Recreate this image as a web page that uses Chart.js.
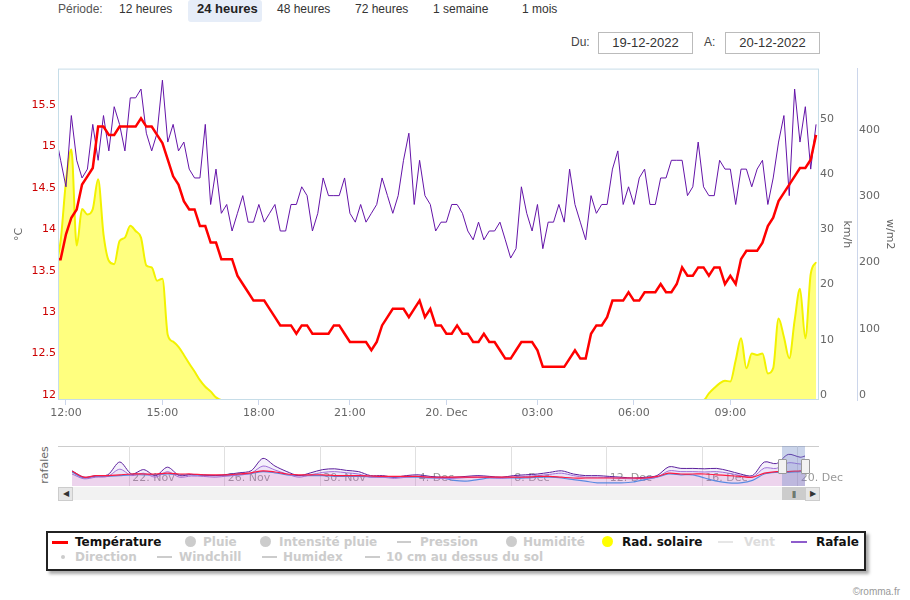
<!DOCTYPE html>
<html><head><meta charset="utf-8">
<script src="https://cdn.jsdelivr.net/npm/chart.js@4.4.0/dist/chart.umd.min.js"></script>
<style>
body{margin:0;width:910px;height:600px;position:relative;background:#fff;font-family:"Liberation Sans",Arial,sans-serif;overflow:hidden}
.a{position:absolute;white-space:nowrap}
.top{font-size:12px;color:#333;line-height:14px;top:2px}
.lg{font-family:"DejaVu Sans",sans-serif;font-weight:bold;font-size:12px;line-height:14px;color:#ccc}
.on{color:#111}
.ln{position:absolute;height:2px}
.dot{position:absolute;border-radius:50%}
.box{position:absolute;border:1px solid #bbb;height:20px;width:93px;top:32px;font-size:13px;line-height:20px;text-align:center;color:#333}
</style></head><body>

<div class="a top" style="left:58px;color:#555">Période:</div>
<div class="a" style="left:188px;top:0;width:74px;height:22px;background:#e6edf8;border-radius:3px"></div>
<div class="a top" style="left:119px">12 heures</div>
<div class="a top" style="left:197px;font-weight:bold;font-size:13px;color:#222">24 heures</div>
<div class="a top" style="left:277px">48 heures</div>
<div class="a top" style="left:355px">72 heures</div>
<div class="a top" style="left:433px">1 semaine</div>
<div class="a top" style="left:522px">1 mois</div>
<div class="a" style="left:571px;top:35px;font-size:12px;color:#444">Du:</div>
<div class="box" style="left:598px">19-12-2022</div>
<div class="a" style="left:704px;top:35px;font-size:12px;color:#444">A:</div>
<div class="box" style="left:725px">20-12-2022</div>

<div class="a" style="left:0;top:60px;width:910px;height:365px"><canvas id="main" width="910" height="365"></canvas></div>

<div class="a" style="left:58px;top:446px;width:761px;height:1px;background:#ccc"></div>
<div class="a" style="left:72px;top:446px;width:793px;height:40px"><canvas id="nav" width="793" height="40"></canvas></div>
<div class="a" style="left:25px;top:458px;width:40px;height:14px;transform:rotate(-90deg);font-family:'DejaVu Sans';font-size:11px;color:#666;text-align:center;line-height:14px">rafales</div>
<div class="a" style="left:782px;top:446px;width:23px;height:40px;background:rgba(102,133,194,0.35)"></div>
<div class="a" style="left:778px;top:459px;width:7px;height:13px;background:#f2f2f2;border:1px solid #999;border-radius:1px"></div>
<div class="a" style="left:801px;top:459px;width:7px;height:13px;background:#f2f2f2;border:1px solid #999;border-radius:1px"></div>
<div class="a" style="left:58px;top:487px;width:761px;height:13px;background:#f2f2f2"></div>
<div class="a" style="left:58px;top:487px;width:13px;height:12px;background:#e6e6e6;border:1px solid #ccc;font-size:8px;line-height:12px;text-align:center;color:#333">&#9664;</div>
<div class="a" style="left:805px;top:487px;width:13px;height:12px;background:#e6e6e6;border:1px solid #ccc;font-size:8px;line-height:12px;text-align:center;color:#333">&#9654;</div>
<div class="a" style="left:782px;top:487px;width:23px;height:13px;background:#ccc;font-size:8px;line-height:13px;text-align:center;color:#333;letter-spacing:-1px">|||</div>

<div class="a" style="left:46px;top:531px;width:816px;height:36px;border:2px solid #222;box-shadow:3px 3px 3px #aaa;background:#fff"></div>
<div class="ln" style="left:52px;top:541px;width:16px;height:3px;background:#ff0000"></div>
<div class="a lg on" style="left:75px;top:535px">Température</div>
<div class="dot" style="left:185px;top:536px;width:11px;height:11px;background:#ccc"></div>
<div class="a lg" style="left:203px;top:535px">Pluie</div>
<div class="dot" style="left:260px;top:536px;width:11px;height:11px;background:#ccc"></div>
<div class="a lg" style="left:279px;top:535px">Intensité pluie</div>
<div class="ln" style="left:397px;top:541px;width:14px;background:#ccc"></div>
<div class="a lg" style="left:420px;top:535px">Pression</div>
<div class="dot" style="left:506px;top:536px;width:11px;height:11px;background:#ccc"></div>
<div class="a lg" style="left:523px;top:535px">Humidité</div>
<div class="dot" style="left:602px;top:536px;width:11px;height:11px;background:#ffff00"></div>
<div class="a lg on" style="left:622px;top:535px">Rad. solaire</div>
<div class="ln" style="left:718px;top:541px;width:15px;background:#e6e6e6"></div>
<div class="a lg" style="left:744px;top:535px;color:#ddd">Vent</div>
<div class="ln" style="left:791px;top:541px;width:16px;background:#8e5ccc"></div>
<div class="a lg on" style="left:816px;top:535px">Rafale</div>
<div class="dot" style="left:61px;top:555px;width:4px;height:4px;background:#ccc"></div>
<div class="a lg" style="left:75px;top:550px">Direction</div>
<div class="ln" style="left:157px;top:556px;width:15px;background:#ccc"></div>
<div class="a lg" style="left:179px;top:550px">Windchill</div>
<div class="ln" style="left:262px;top:556px;width:15px;background:#ccc"></div>
<div class="a lg" style="left:283px;top:550px">Humidex</div>
<div class="ln" style="left:365px;top:556px;width:15px;background:#ccc"></div>
<div class="a lg" style="left:386px;top:550px">10 cm au dessus du sol</div>

<div class="a" style="right:10px;top:586px;font-size:10px;color:#999">©romma.fr</div>

<script>
// ---- main chart data (10-min readings, index = position on ordinal axis) ----
const firstIndex = -1;
const temperature = [
 13.7,13.7,14.0,14.2,14.3,14.6,14.7,14.8,15.3,15.3,15.2,
 15.2,15.3,15.3,15.3,15.3,15.4,15.3,15.3,15.2,15.1,
 14.9,14.7,14.6,14.4,14.3,14.3,14.1,14.1,13.9,13.9,
 13.7,13.7,13.7,13.5,13.4,13.3,13.2,13.2,13.2,13.1,
 13.0,12.9,12.9,12.9,12.8,12.9,12.9,12.8,12.8,12.8,
 12.8,12.9,12.9,12.8,12.7,12.7,12.7,12.7,12.6,12.7,
 12.9,13.0,13.1,13.1,13.1,13.0,13.1,13.2,13.0,13.1,
 12.9,12.9,12.8,12.8,12.9,12.8,12.8,12.7,12.7,12.8,
 12.7,12.7,12.6,12.5,12.5,12.6,12.7,12.7,12.7,12.6,
 12.4,12.4,12.4,12.4,12.4,12.5,12.6,12.5,12.5,12.8,
 12.9,12.9,13.0,13.2,13.2,13.2,13.3,13.2,13.2,13.3,
 13.3,13.3,13.4,13.3,13.3,13.4,13.6,13.5,13.5,13.6,
 13.6,13.5,13.6,13.6,13.4,13.5,13.4,13.7,13.8,13.8,
 13.8,13.9,14.1,14.2,14.4,14.5,14.6,14.7,14.8,14.8,14.9,15.2
];
const rafale = [
 48.3,43.4,38.6,51.5,43.4,40.2,41.8,49.9,43.4,51.5,45.1,
 53.1,49.9,45.1,54.7,54.7,56.3,48.3,45.1,48.3,57.9,
 46.7,49.9,45.1,46.7,41.8,40.2,40.2,49.9,35.4,41.8,
 33.8,35.4,30.6,33.8,37.0,32.2,32.2,35.4,32.2,33.8,
 35.4,30.6,30.6,35.4,35.4,38.6,37.0,30.6,33.8,40.2,
 37.0,37.0,37.0,40.2,33.8,32.2,35.4,32.2,33.8,35.4,
 40.2,37.0,33.8,37.0,43.4,48.3,35.4,43.4,37.0,35.4,
 30.6,32.2,32.2,35.4,35.4,33.8,30.6,29.0,32.2,29.0,
 30.6,30.6,32.2,29.0,25.7,27.4,38.6,33.8,30.6,35.4,
 27.4,32.2,32.2,35.4,32.2,41.8,35.4,32.2,29.0,37.0,
 33.8,35.4,35.4,41.8,45.1,35.4,38.6,35.4,40.2,41.8,
 35.4,35.4,40.2,40.2,43.4,43.4,43.4,37.0,38.6,46.7,
 38.6,37.0,37.0,43.4,41.8,41.8,35.4,41.8,41.8,38.6,
 41.8,43.4,35.4,40.2,46.7,51.5,37.0,56.3,46.7,53.1,41.8,49.9
];
const solar = [
 200,240,330,378,233,288,280,288,333,250,210,
 205,240,245,263,255,245,203,200,180,183,
 98,88,80,68,55,43,30,20,13,4,
 0,0,0,0,0,0,0,0,0,0,
 0,0,0,0,0,0,0,0,0,0,
 0,0,0,0,0,0,0,0,0,0,
 0,0,0,0,0,0,0,0,0,0,
 0,0,0,0,0,0,0,0,0,0,
 0,0,0,0,0,0,0,0,0,0,
 0,0,0,0,0,0,0,0,0,0,
 0,0,0,0,0,0,0,0,0,0,
 0,0,0,0,0,0,0,0,0,0,
 0,10,18,25,29,28,60,93,48,70,
 68,70,40,48,123,95,63,120,168,93,190,208
];
const tickIndex  = [1,19,37,54,72,89,107,125];
const tickLabels = ['12:00','15:00','18:00','21:00','20. Dec','03:00','06:00','09:00'];
const tempTicks  = [12,12.5,13,13.5,14,14.5,15,15.5];
const windTicks  = [0,10,20,30,40,50];
const solarTicks = [0,100,200,300,400];

// ---- navigator data (days since 19 Nov) ----
const navDays = [0.6,1.1,1.6,2.1,2.6,3.1,3.6,4.1,4.6,5.1,5.6,6.1,6.6,7.1,7.6,8.1,8.6,9.1,9.6,10.1,10.6,11.1,11.6,12.1,12.6,13.1,13.6,14.1,14.6,15.1,15.6,16.1,16.6,17.1,17.6,18.1,18.6,19.1,19.6,20.1,20.6,21.1,21.6,22.1,22.6,23.1,23.6,24.1,24.6,25.1,25.6,26.1,26.6,27.1,27.6,28.1,28.6,29.1,29.6,30.1,30.6,31.1,31.3];
const navRafale = [38,22,26,28,60,30,41,26,47,26,29,28,26,29,33,38,69,50,36,26,33,41,43,39,36,26,26,22,26,28,24,22,22,24,26,24,22,26,28,30,34,38,30,26,26,24,22,20,22,26,48,44,44,43,44,38,30,26,60,56,79,72,75];
const navVent = [30,18,22,24,42,26,32,22,36,22,25,24,22,25,28,32,50,40,30,22,28,34,36,33,30,22,22,19,22,24,21,19,19,21,22,21,19,22,24,26,29,32,26,22,22,21,19,18,19,22,38,36,36,35,36,32,26,22,45,44,58,55,56];
const navTemp = [37,22,26,26,28,30,30,30,32,30,30,28,28,28,30,33,38,35,30,28,28,28,26,26,26,25,24,24,24,24,22,22,22,22,22,22,22,22,22,24,24,22,20,20,20,20,20,20,20,24,32,30,30,30,28,26,24,22,32,36,36,38,38];
const navSol = [35,20,24,24,26,28,28,28,30,28,28,26,26,26,28,31,36,33,28,26,26,26,24,24,24,23,22,22,22,22,20,20,14,12,16,20,20,20,20,22,22,20,16,12,8,8,8,10,16,22,30,28,28,20,12,8,8,14,30,34,34,36,36];
const navTickDays = [3,7,11,15,19,23,27,31];
const navTickLabels = ['22. Nov','26. Nov','30. Nov','4. Dec','8. Dec','12. Dec','16. Dec','20. Dec'];

Chart.defaults.font.family = '"DejaVu Sans", Verdana, sans-serif';
Chart.defaults.font.size = 11;

const pts = arr => arr.map((v,k)=>({x:k+firstIndex,y:v}));
const navPts = arr => arr.map((v,k)=>({x:navDays[k],y:v}));

const plotBorder = {
  id:'plotBorder',
  afterDraw(chart){
    const a = chart.chartArea, c = chart.ctx;
    c.save(); c.strokeStyle='#c6dde8'; c.lineWidth=1;
    c.strokeRect(a.left+0.5,a.top+0.5,a.right-a.left-1,a.bottom-a.top-1);
    c.restore();
  }
};

new Chart(document.getElementById('main'), {
  type:'line',
  data:{datasets:[
    {label:'Température',data:pts(temperature),yAxisID:'yTemp',borderColor:'#ff0000',borderWidth:2.5,pointRadius:0,tension:0,fill:false,order:0},
    {label:'Rafale',data:pts(rafale),yAxisID:'yWind',borderColor:'#6414a8',borderWidth:1,pointRadius:0,tension:0,fill:false,order:1},
    {label:'Rad. solaire',data:pts(solar),yAxisID:'ySolar',borderColor:'#f2f200',backgroundColor:'rgba(255,255,0,0.5)',borderWidth:2,pointRadius:0,cubicInterpolationMode:'monotone',fill:'origin',order:2}
  ]},
  options:{
    responsive:false,animation:false,
    layout:{padding:{top:7,left:0,right:0,bottom:0}},
    plugins:{legend:{display:false},tooltip:{enabled:false}},
    scales:{
      x:{type:'linear',position:'bottom',min:-0.49,max:141.55,
        afterBuildTicks:s=>{s.ticks=tickIndex.map(v=>({value:v}));},
        afterFit:s=>{s.height=25;},
        grid:{display:true,drawOnChartArea:false,drawTicks:true,tickLength:5,color:'#ccd6eb'},
        border:{display:false},
        ticks:{autoSkip:false,maxRotation:0,color:'#666',padding:2,
          callback:(v)=>{const i=tickIndex.indexOf(v);return i>=0?tickLabels[i]:'';}}},
      yTemp:{position:'left',min:12,max:16,
        afterBuildTicks:s=>{s.ticks=tempTicks.map(v=>({value:v}));},
        afterFit:s=>{s.width=58;},
        grid:{display:false,drawTicks:false},border:{display:false},
        ticks:{color:'#cc0000',padding:2,labelOffset:-5,callback:v=>String(v)},
        title:{display:true,text:'°C',color:'#666',padding:{top:12.4,bottom:0}}},
      yWind:{position:'right',weight:1,min:0,max:60,
        afterBuildTicks:s=>{s.ticks=windTicks.map(v=>({value:v}));},
        afterFit:s=>{s.width=38;},
        grid:{display:false,drawTicks:false},border:{display:false},
        ticks:{color:'#666',padding:1,labelOffset:-5,callback:v=>String(v)},
        title:{display:true,text:'km/h',color:'#666',padding:{top:3.7,bottom:0}}},
      ySolar:{position:'right',weight:2,min:0,max:500,
        afterBuildTicks:s=>{s.ticks=solarTicks.map(v=>({value:v}));},
        afterFit:s=>{s.width=53;},
        grid:{display:false,drawTicks:false},border:{display:true,color:'#ccd6eb'},
        ticks:{color:'#666',padding:2,labelOffset:-5,callback:v=>String(v)},
        title:{display:true,text:'w/m2',color:'#666',padding:{top:13.4,bottom:0}}}
    }
  },
  plugins:[plotBorder]
});

new Chart(document.getElementById('nav'), {
  type:'line',
  data:{datasets:[
    {data:navPts(navTemp),borderColor:'#ff1a40',borderWidth:1.2,pointRadius:0,tension:0.3,fill:'start',backgroundColor:'rgba(255,80,150,0.10)',order:0},
    {data:navPts(navSol),borderColor:'#3399ee',borderWidth:1.2,pointRadius:0,tension:0.3,fill:false,order:3},
    {data:navPts(navVent),borderColor:'#a070d8',borderWidth:1,pointRadius:0,tension:0.3,fill:'start',backgroundColor:'rgba(170,130,230,0.10)',order:1},
    {data:navPts(navRafale),borderColor:'#5b1f9c',borderWidth:1,pointRadius:0,tension:0.3,fill:'start',backgroundColor:'rgba(150,110,220,0.10)',order:2}
  ]},
  options:{
    responsive:false,animation:false,
    layout:{padding:{top:0,left:0,right:60,bottom:0}},
    plugins:{legend:{display:false},tooltip:{enabled:false}},
    scales:{
      x:{type:'linear',min:0.6,max:31.3,
        afterBuildTicks:s=>{s.ticks=navTickDays.map(v=>({value:v}));},
        afterFit:s=>{s.height=0;},
        grid:{display:true,drawOnChartArea:true,drawTicks:false,color:'#e0e0e0'},
        border:{display:false},
        ticks:{autoSkip:false,maxRotation:0,align:'start',mirror:true,labelOffset:3,padding:1,color:'#999',
          callback:(v)=>{const i=navTickDays.indexOf(v);return i>=0?navTickLabels[i]:'';}}},
      y:{display:false,min:0,max:100}
    }
  }
});
</script>
</body></html>
